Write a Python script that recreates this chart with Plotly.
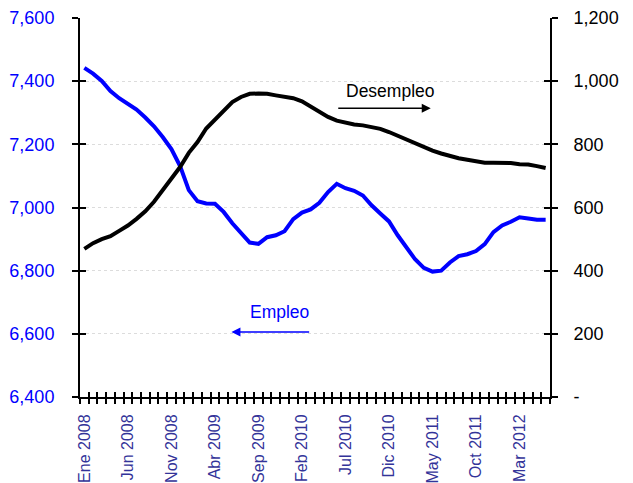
import plotly.graph_objects as go

# ---- data ----
tick_labels = ["Ene 2008", "Jun 2008", "Nov 2008", "Abr 2009", "Sep 2009", "Feb 2010",
               "Jul 2010", "Dic 2010", "May 2011", "Oct 2011", "Mar 2012"]
tick_index = [0, 5, 10, 15, 20, 25, 30, 35, 40, 45, 50]

empleo = [7442, 7424, 7401, 7369, 7346, 7328, 7310, 7285, 7257, 7223,
          7185, 7131, 7055, 7020, 7013, 7012, 6986, 6950, 6918, 6889,
          6885, 6906, 6912, 6925, 6963, 6984, 6994, 7015, 7049, 7075,
          7061, 7053, 7038, 7007, 6981, 6956, 6912, 6873, 6836, 6809,
          6797, 6800, 6826, 6846, 6852, 6862, 6884, 6922, 6943, 6955,
          6969, 6965, 6961, 6961]

desempleo = [469, 487, 500, 509, 526, 543, 564, 588, 618, 653,
             689, 728, 773, 807, 850, 878, 908, 934, 950, 960,
             961, 960, 955, 951, 946, 936, 920, 901, 887, 875,
             868, 863, 860, 856, 849, 839, 827, 815, 802, 789,
             780, 771, 762, 756, 751, 746, 742, 742, 742, 741,
             737, 736, 731, 725]

left_ticks = [6400, 6600, 6800, 7000, 7200, 7400, 7600]
left_text = ["6,400", "6,600", "6,800", "7,000", "7,200", "7,400", "7,600"]
right_ticks = [0, 200, 400, 600, 800, 1000, 1200]
right_text = ["-", "200", "400", "600", "800", "1,000", "1,200"]

n = len(empleo)
x = list(range(n))
xr = [-0.5, n - 0.5]
bounds = [i - 0.5 for i in range(n + 1)]

FONT = "Liberation Sans, Arial, sans-serif"

fig = go.Figure()
fig.add_trace(go.Scatter(x=x, y=empleo, mode="lines", name="Empleo",
                         line=dict(color="#0000FF", width=4), yaxis="y", xaxis="x",
                         hoverinfo="skip"))
fig.add_trace(go.Scatter(x=x, y=desempleo, mode="lines", name="Desempleo",
                         line=dict(color="#000000", width=4), yaxis="y2", xaxis="x",
                         hoverinfo="skip"))
# dummy traces for overlay axes (crossing tick marks)
fig.add_trace(go.Scatter(x=[], y=[], xaxis="x2", yaxis="y3", showlegend=False))
fig.add_trace(go.Scatter(x=[], y=[], xaxis="x2", yaxis="y4", showlegend=False))

# page body has an 8px margin, so the figure is sized/offset to compensate
fig.update_layout(
    width=625, height=475,
    margin=dict(l=72, r=83, t=10, b=86),
    paper_bgcolor="white", plot_bgcolor="white",
    showlegend=False,
    font=dict(family=FONT),
    xaxis=dict(range=xr, tickmode="array", tickvals=tick_index, ticktext=tick_labels,
               tickangle=-90, ticks="", showgrid=False, zeroline=False, automargin=False,
               showline=True, linecolor="black", linewidth=2,
               tickfont=dict(size=16, color="#333399"), ticklabelstandoff=9,
               minor=dict(tickvals=bounds, ticks="outside", ticklen=5,
                          tickcolor="black", tickwidth=1.5, showgrid=False)),
    xaxis2=dict(range=xr, overlaying="x", anchor="y3", side="bottom", automargin=False,
                tickmode="array", tickvals=bounds, ticks="inside", ticklen=5,
                tickcolor="black", tickwidth=1.5, showticklabels=False,
                showgrid=False, zeroline=False, showline=False),
    yaxis=dict(range=[6400, 7600], tickmode="array", tickvals=left_ticks, ticktext=left_text,
               ticks="outside", ticklen=6, tickcolor="black", tickwidth=1.5, automargin=False,
               showgrid=True, gridcolor="#dcdcdc", griddash="dot", gridwidth=1,
               zeroline=False, showline=True, linecolor="black", linewidth=2,
               tickfont=dict(size=18, color="#0000FF"), ticklabelstandoff=14),
    yaxis2=dict(range=[0, 1200], overlaying="y", side="right", anchor="x", automargin=False,
                tickmode="array", tickvals=right_ticks, ticktext=right_text,
                ticks="outside", ticklen=6, tickcolor="black", tickwidth=1.5,
                showgrid=False, zeroline=False, showline=True, linecolor="black", linewidth=2,
                tickfont=dict(size=18, color="#000000"), ticklabelstandoff=12),
    yaxis3=dict(range=[6400, 7600], overlaying="y", side="left", anchor="x2", automargin=False,
                tickmode="array", tickvals=left_ticks, ticks="inside", ticklen=6,
                tickcolor="black", tickwidth=1.5, showticklabels=False,
                showgrid=False, zeroline=False, showline=False),
    yaxis4=dict(range=[0, 1200], overlaying="y", side="right", anchor="x2", automargin=False,
                tickmode="array", tickvals=right_ticks, ticks="inside", ticklen=6,
                tickcolor="black", tickwidth=1.5, showticklabels=False,
                showgrid=False, zeroline=False, showline=False),
)

# Desempleo label + arrow (right axis)
fig.add_annotation(x=35.2, y=968, xref="x", yref="y2", text="Desempleo", showarrow=False,
                   font=dict(size=17.5, color="black", family=FONT))
fig.add_annotation(x=39.8, y=914, ax=29.0, ay=914, xref="x", yref="y2", axref="x", ayref="y2",
                   text="", showarrow=True, arrowhead=2, arrowsize=1.2, arrowwidth=1.5,
                   arrowcolor="black")
# Empleo label + arrow (left axis)
fig.add_annotation(x=22.4, y=6668, xref="x", yref="y", text="Empleo", showarrow=False,
                   font=dict(size=17.5, color="#0000FF", family=FONT))
fig.add_annotation(x=16.9, y=6606, ax=26.0, ay=6606, xref="x", yref="y", axref="x", ayref="y",
                   text="", showarrow=True, arrowhead=2, arrowsize=1.2, arrowwidth=1.5,
                   arrowcolor="#0000FF")

fig.write_html("out.html")
